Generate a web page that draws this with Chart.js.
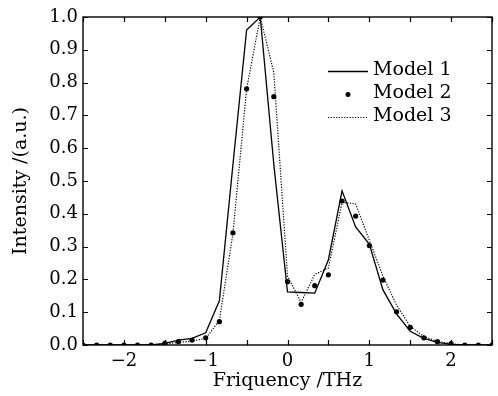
<!DOCTYPE html>
<html>
<head>
<meta charset="utf-8">
<script src="https://cdn.jsdelivr.net/npm/chart.js@4/dist/chart.umd.min.js"></script>
<style>
  html, body { margin: 0; padding: 0; background: #fff; }
  canvas { display: block; }
</style>
</head>
<body>
<canvas id="specChart" width="498" height="396"></canvas>
<script>
// 频率采样点 (THz)
var freq = [-2.5, -2.333, -2.167, -2.0, -1.833, -1.667, -1.5, -1.333, -1.167, -1.0, -0.833,
  -0.667, -0.5, -0.333, -0.167, 0, 0.167, 0.333, 0.5, 0.667, 0.833,
  1.0, 1.167, 1.333, 1.5, 1.667, 1.833, 2.0, 2.167, 2.333, 2.5];

var model1 = [0, 0, 0, 0, 0, 0, 0.005, 0.015, 0.02, 0.037, 0.135,
  0.55, 0.96, 1.0, 0.55, 0.162, 0.16, 0.158, 0.26, 0.47, 0.36,
  0.308, 0.168, 0.095, 0.042, 0.02, 0.008, 0.002, 0, 0, 0];

var model2 = [0, 0, 0, 0, 0, 0, 0.005, 0.01, 0.015, 0.022, 0.071,
  0.342, 0.781, 1.0, 0.757, 0.193, 0.124, 0.181, 0.214, 0.439, 0.393,
  0.303, 0.198, 0.101, 0.054, 0.022, 0.01, 0.004, 0, 0, 0];

var model3 = [0, 0, 0, 0, 0, 0, 0.003, 0.008, 0.012, 0.02, 0.075,
  0.34, 0.78, 1.0, 0.83, 0.21, 0.13, 0.215, 0.235, 0.435, 0.43,
  0.32, 0.21, 0.122, 0.057, 0.026, 0.011, 0.004, 0, 0, 0];

var seriesNames = ['Model 1', 'Model 2', 'Model 3'];

var FONT = 'DejaVu Serif';

function pts(ys) {
  return freq.map(function (x, i) { return { x: x, y: ys[i] }; });
}

// 边框、向内刻度和图例
var framePlugin = {
  id: 'frame',
  afterDraw: function (chart) {
    var ctx = chart.ctx, a = chart.chartArea;
    var xs = chart.scales.x, ys = chart.scales.y;
    var L = 5;
    ctx.save();
    ctx.strokeStyle = '#000';
    ctx.lineWidth = 1.2;
    ctx.beginPath();
    xs.ticks.forEach(function (t) {
      var px = Math.round(xs.getPixelForValue(t.value)) + 0.5;
      ctx.moveTo(px, a.bottom); ctx.lineTo(px, a.bottom - L);
      ctx.moveTo(px, a.top); ctx.lineTo(px, a.top + L);
    });
    ys.ticks.forEach(function (t) {
      var py = Math.round(ys.getPixelForValue(t.value)) + 0.5;
      ctx.moveTo(a.left, py); ctx.lineTo(a.left + L, py);
      ctx.moveTo(a.right, py); ctx.lineTo(a.right - L, py);
    });
    ctx.stroke();
    ctx.lineWidth = 1.4;
    ctx.strokeRect(a.left, a.top, a.right - a.left, a.bottom - a.top);

    // 图例
    var lx = 328, tx = 373, rows = [71, 94.5, 117];
    ctx.font = '19px "' + FONT + '"';
    ctx.fillStyle = '#000';
    ctx.textBaseline = 'middle';
    ctx.textAlign = 'left';
    chart.data.datasets.forEach(function (ds, i) {
      var y = rows[i];
      if (i === 1) {
        ctx.beginPath();
        ctx.arc(348, y, 2.5, 0, Math.PI * 2);
        ctx.fill();
      } else {
        ctx.beginPath();
        ctx.lineWidth = ds.borderWidth;
        ctx.setLineDash(ds.borderDash || []);
        ctx.moveTo(lx, y + 0.5); ctx.lineTo(lx + 40, y + 0.5);
        ctx.stroke();
        ctx.setLineDash([]);
      }
      ctx.fillText(ds.label, tx, y - 1);
    });
    ctx.restore();
  }
};

new Chart(document.getElementById('specChart').getContext('2d'), {
  type: 'line',
  data: {
    datasets: [{
      label: seriesNames[0],
      data: pts(model1),
      borderColor: '#000',
      borderWidth: 1.3,
      pointRadius: 0,
      tension: 0
    }, {
      label: seriesNames[1],
      data: pts(model2),
      showLine: false,
      pointRadius: 2.6,
      pointBackgroundColor: '#000',
      pointBorderWidth: 0
    }, {
      label: seriesNames[2],
      data: pts(model3),
      borderColor: '#000',
      borderWidth: 1.2,
      borderDash: [1.2, 1.5],
      pointRadius: 0,
      tension: 0
    }]
  },
  options: {
    responsive: false,
    animation: false,
    devicePixelRatio: 1,
    layout: { padding: { top: 17, right: 1, left: 0, bottom: 0 } },
    plugins: {
      legend: { display: false },
      tooltip: { enabled: false }
    },
    scales: {
      x: {
        type: 'linear',
        min: -2.5,
        max: 2.5,
        afterFit: function (s) { s.height = 51; },
        grid: { display: false, drawTicks: false },
        border: { display: false },
        ticks: {
          stepSize: 0.5,
          autoSkip: false,
          maxRotation: 0,
          padding: 6,
          color: '#000',
          font: { family: FONT, size: 18 },
          callback: function (v) {
            if (!Number.isInteger(v)) return '';
            return v < 0 ? '\u2212' + Math.abs(v) : String(v);
          }
        },
        title: {
          display: true,
          text: 'Friquency /THz',
          color: '#000',
          font: { family: FONT, size: 19 },
          padding: { top: 0, bottom: 4 }
        }
      },
      y: {
        min: 0,
        max: 1,
        afterFit: function (s) { s.width = 83; },
        grid: { display: false, drawTicks: false },
        border: { display: false },
        ticks: {
          stepSize: 0.1,
          autoSkip: false,
          padding: 5,
          color: '#000',
          font: { family: FONT, size: 18 },
          callback: function (v) { return v.toFixed(1); }
        },
        title: {
          display: true,
          text: 'Intensity /(a.u.)',
          color: '#000',
          font: { family: FONT, size: 19 },
          padding: { top: 10, bottom: 0 }
        }
      }
    }
  },
  plugins: [framePlugin]
});
</script>
</body>
</html>
